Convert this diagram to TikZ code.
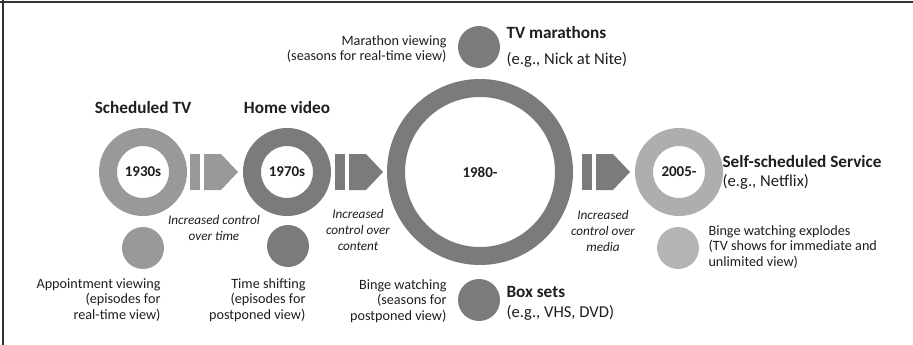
\documentclass[tikz,border=0pt]{standalone}
\usepackage{fontspec}
\setmainfont{Carlito}
\definecolor{ringlight}{HTML}{999999}
\definecolor{ringdark}{HTML}{7B7B7B}
\definecolor{ringpale}{HTML}{AEAEAE}
\definecolor{dotpale}{HTML}{B4B4B4}
\definecolor{inkgray}{HTML}{1E1E1E}

\begin{document}
\begin{tikzpicture}[x=1pt,y=-1pt,
    every node/.style={text=inkgray},
    ring/.style={circle,line width=18pt,minimum size=70pt,inner sep=0pt,font=\fontsize{15}{17}\selectfont\bfseries},
    dot/.style={circle,minimum size=42pt,inner sep=0pt},
    era/.style={font=\fontsize{17.2}{20}\selectfont\bfseries},
    note/.style={font=\fontsize{14.2}{15.6}\selectfont},
    eg/.style={font=\fontsize{16.6}{19}\selectfont},
    gain/.style={font=\fontsize{13.2}{15.6}\selectfont\itshape,align=center},
    chevron/.pic={
      \fill[pic actions] (0,-18) rectangle (10,18);
      \fill[pic actions] (14,-18) -- (31,-18) -- (48,0) -- (31,18) -- (14,18) -- cycle;
    }]
  \useasboundingbox (0,0) rectangle (913,345);
  \draw[line width=1.5pt,black!80] (0,2) -- (913,2) (3,0) -- (3,345);

  % eras
  \draw
    (143,172) node[ring,draw=ringlight] (r1930){1930s}
    (287,172) node[ring,draw=ringdark] (r1970){1970s}
    (480,172) node[ring,draw=ringdark,minimum size=168pt] (r1980){1980-}
    (679,172) node[ring,draw=ringpale] (r2005){2005-};

  \pic[fill=ringlight] at (190,172) {chevron};
  \pic[fill=ringdark] at (335,172) {chevron};
  \pic[fill=ringdark] at (582,172) {chevron};

  \node[era] (sched) at (143,108) {Scheduled TV};
  \node[era] (home) at (287,108) {Home video};

  \node[gain] (ctime) at (214,228) {Increased control\\over time};
  \node[gain] (ccont) at (358,230) {Increased\\control over\\content};
  \node[gain] (cmedia) at (603,231) {Increased\\control over\\media};

  % viewing modes
  \draw
    (143,248) node[dot,fill=ringlight] (d1930){}
    (288,246) node[dot,fill=ringdark] (d1970){}
    (479,47) node[dot,fill=ringdark] (dmara){}
    (479,300) node[dot,fill=ringdark] (dbox){}
    (678,248) node[dot,fill=dotpale] (d2005){};

  \node[note,anchor=east,align=right] (appt) at (164,300) {Appointment viewing\\(episodes for\\real-time view)};
  \node[note,anchor=east,align=right] (tshift) at (309,300) {Time shifting\\(episodes for\\postponed view)};
  \node[note,anchor=east,align=right] (binge) at (450,301) {Binge watching\\(seasons for\\postponed view)};
  \node[note,anchor=east,align=right] (mview) at (450,49) {Marathon viewing\\(seasons for real-time view)};
  \node[note,anchor=west,align=left] (explode) at (705,247) {Binge watching explodes\\(TV shows for immediate and\\unlimited view)};

  \node[era,anchor=west] (tvm) at (503,33) {TV marathons};
  \node[eg,anchor=west] (nick) at (503,60) {(e.g., Nick at Nite)};
  \node[era,anchor=west] (boxs) at (503,292) {Box sets};
  \node[eg,anchor=west] (vhs) at (503,313) {(e.g., VHS, DVD)};
  \node[era,anchor=west] (self) at (719,162) {Self-scheduled Service};
  \node[eg,anchor=west] (nflx) at (719,182) {(e.g., Netflix)};
\end{tikzpicture}
\end{document}
